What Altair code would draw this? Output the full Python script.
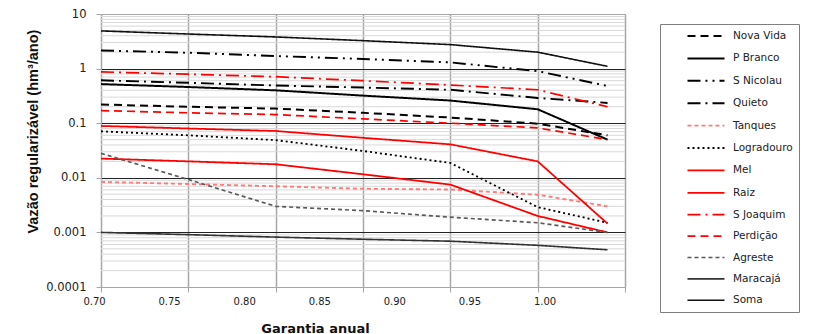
import altair as alt
import pandas as pd
import json

garantia = [0.70, 0.75, 0.80, 0.85, 0.90, 0.95, 0.99]

series_names = ["Nova Vida", "P Branco", "S Nicolau", "Quieto", "Tanques", "Logradouro",
                "Mel", "Raiz", "S Joaquim", "Perdição", "Agreste", "Maracajá", "Soma"]

nova_vida = [0.22, 0.20, 0.185, 0.155, 0.127, 0.098, 0.06]
p_branco = [0.52, 0.46, 0.40, 0.32, 0.26, 0.18, 0.05]
s_nicolau = [2.15, 1.95, 1.7, 1.5, 1.3, 0.9, 0.48]
quieto = [0.61, 0.55, 0.49, 0.45, 0.41, 0.29, 0.235]
tanques = [0.0084, 0.0077, 0.007, 0.0063, 0.0061, 0.0049, 0.003]
logradouro = [0.071, 0.06, 0.049, 0.031, 0.0187, 0.0029, 0.0015]
mel = [0.0225, 0.020, 0.0177, 0.0116, 0.0075, 0.002, 0.001]
raiz = [0.089, 0.08, 0.072, 0.054, 0.041, 0.020, 0.00145]
s_joaquim = [0.87, 0.79, 0.71, 0.6, 0.5, 0.41, 0.20]
perdicao = [0.17, 0.155, 0.144, 0.12, 0.10, 0.082, 0.05]
agreste = [0.028, 0.0093, 0.003, 0.0025, 0.0019, 0.0015, 0.001]
maracaja = [0.001, 0.00091, 0.00082, 0.00075, 0.00069, 0.00058, 0.00048]
soma = [4.9, 4.3, 3.8, 3.25, 2.75, 2.0, 1.1]

all_values = [nova_vida, p_branco, s_nicolau, quieto, tanques, logradouro,
              mel, raiz, s_joaquim, perdicao, agreste, maracaja, soma]

x_tick_labels = [0.70, 0.75, 0.80, 0.85, 0.90, 0.95, 1.00]
y_major = [0.0001, 0.001, 0.01, 0.1, 1, 10]

# styles
colors = ["#000000", "#000000", "#000000", "#000000", "#ff7a7a", "#000000",
          "#ff0000", "#ff0000", "#ff0000", "#ff0000", "#595959", "#333333", "#111111"]
dashes = [[8, 5], [1, 0], [13, 5, 2, 5, 2, 5], [13, 5, 2, 5], [4, 3], [2, 3],
          [1, 0], [1, 0], [13, 5, 2, 5], [8, 5], [4, 3], [1, 0], [1, 0]]
widths = [2, 1.6, 2, 2, 1.5, 2, 1, 2, 2, 2, 1.2, 1.2, 3]

rows = []
for name, vals in zip(series_names, all_values):
    for g, v in zip(garantia, vals):
        rows.append({"serie": name, "garantia": g, "vazao": v})
df = pd.DataFrame(rows)

minor = []
for dec in [0.0001, 0.001, 0.01, 0.1, 1]:
    for m in range(2, 10):
        minor.append(round(dec * m, 6))
minor_df = pd.DataFrame({"v": minor})

W, H = 524, 273
yscale = alt.Scale(type="log", domain=[0.0001, 10], nice=False)
y_axis = alt.Axis(values=y_major, format=".4~f", title="Vazão regularizável (hm³/ano)",
                  grid=True,
                  gridColor={"condition": {"test": "datum.value > 5 || datum.value < 0.0005",
                                           "value": "#a6a6a6"}, "value": "#222222"},
                  gridWidth=1, tickSize=5, tickColor="#a6a6a6", domainColor="#a6a6a6",
                  labelPadding=10, labelFont="DejaVu Sans", labelFontSize=11.5,
                  labelColor="#222222",
                  titleFont="Liberation Sans", titleFontSize=14.5,
                  titleFontWeight="bold", titleColor="#111111",
                  titleAngle=-90, titleAlign="left", titleBaseline="middle",
                  titleX=-68, titleY=219)

minor_layer = alt.Chart(minor_df).mark_rule(color="#d9d9d9", strokeWidth=1).encode(
    y=alt.Y("v:Q", scale=yscale, axis=y_axis)
)

width_expr = "{}[indexof({}, datum.value)]".format(
    json.dumps(widths), json.dumps(series_names, ensure_ascii=False))
legend_def = alt.Legend(title=None, symbolStrokeWidth=alt.ExprRef(width_expr))

lines = alt.Chart(df).mark_line(strokeCap="butt").encode(
    x=alt.X("garantia:Q", scale=alt.Scale(domain=[0.70, 1.00], nice=False, zero=False),
            axis=alt.Axis(orient="bottom", values=x_tick_labels, labels=False, title=None,
                          ticks=True, tickSize=5, tickColor="#a6a6a6", domain=True,
                          domainColor="#a6a6a6", grid=True, gridColor="#a6a6a6",
                          gridWidth=1.5)),
    y=alt.Y("vazao:Q", scale=yscale, axis=y_axis),
    color=alt.Color("serie:N", scale=alt.Scale(domain=series_names, range=colors),
                    sort=series_names, legend=legend_def),
    strokeDash=alt.StrokeDash("serie:N", scale=alt.Scale(domain=series_names, range=dashes),
                              sort=series_names, legend=legend_def),
    strokeWidth=alt.StrokeWidth("serie:N", scale=alt.Scale(domain=series_names, range=widths),
                                sort=series_names, legend=None),
    detail="serie:N",
)

label_axis = alt.Chart(pd.DataFrame({"g": x_tick_labels})).mark_point(opacity=0).encode(
    x=alt.X("g:Q", scale=alt.Scale(domain=[0.70, 1.04894], nice=False, zero=False),
            axis=alt.Axis(orient="bottom", values=x_tick_labels, format=".2f", ticks=False,
                          domain=False, grid=False, labelPadding=9, labelOffset=-7,
                          labelFlush=False, labelFont="DejaVu Sans",
                          labelFontSize=10, labelColor="#222222",
                          title="Garantia anual", titleFont="DejaVu Sans", titleFontSize=13,
                          titleFontWeight="bold", titleColor="#111111",
                          titleX=214, titleY=45, titleBaseline="alphabetic")),
    y=alt.value(0),
)

chart = alt.layer(minor_layer, lines, label_axis).resolve_scale(
    x="independent"
).resolve_axis(x="independent").properties(
    width=W, height=H,
    autosize=alt.AutoSizeParams(type="none"),
    padding={"left": 101, "top": 14, "right": 188, "bottom": 47},
).configure_view(stroke=None).configure_legend(
    orient="none", legendX=559, legendY=10, padding=6, strokeColor="#7f7f7f",
    symbolType="M-4,0H4", symbolSize=85.6, symbolOffset=34, labelOffset=21,
    labelFont="DejaVu Sans", labelFontSize=10.5, labelColor="#222222", rowPadding=10.4,
    symbolStrokeColor="#000000", labelLimit=200,
)

chart.save("out.html", embed_options={"renderer": "svg", "actions": False})
